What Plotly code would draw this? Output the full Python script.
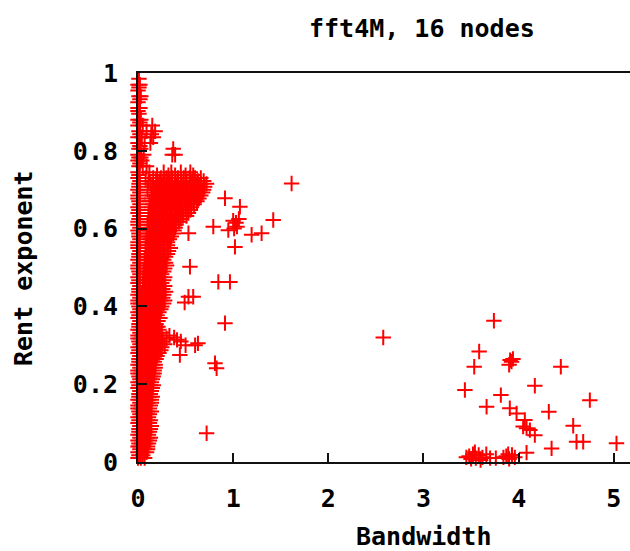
import plotly.graph_objects as go

# ---- data ----
# dense core near zero bandwidth: each row is (rent exponent, [bandwidths])
core_rows = [
    (0.010, [0.0, 0.03, 0.07]),
    (0.025, [0.0, 0.05, 0.09]),
    (0.040, [0.0, 0.02, 0.06, 0.10]),
    (0.055, [0.0, 0.04, 0.08, 0.12]),
    (0.070, [0.0, 0.03, 0.07, 0.11]),
    (0.085, [0.01, 0.05, 0.09, 0.13]),
    (0.100, [0.0, 0.04, 0.08, 0.12]),
    (0.115, [0.0, 0.03, 0.07, 0.11]),
    (0.130, [0.01, 0.05, 0.10, 0.14]),
    (0.145, [0.0, 0.04, 0.08, 0.13]),
    (0.160, [0.0, 0.03, 0.07, 0.11, 0.14]),
    (0.175, [0.01, 0.05, 0.09, 0.13]),
    (0.190, [0.0, 0.04, 0.08, 0.12, 0.15]),
    (0.205, [0.0, 0.03, 0.07, 0.11, 0.14]),
    (0.220, [0.01, 0.05, 0.09, 0.13, 0.16]),
    (0.235, [0.0, 0.04, 0.08, 0.12, 0.17]),
    (0.250, [0.0, 0.03, 0.07, 0.11, 0.15, 0.18]),
    (0.265, [0.01, 0.05, 0.09, 0.14, 0.19]),
    (0.280, [0.0, 0.04, 0.08, 0.12, 0.17, 0.22]),
    (0.295, [0.0, 0.03, 0.07, 0.11, 0.16, 0.21, 0.25]),
    (0.310, [0.01, 0.05, 0.10, 0.15, 0.20, 0.26]),
    (0.325, [0.0, 0.04, 0.08, 0.13, 0.18, 0.23, 0.33]),
    (0.340, [0.0, 0.03, 0.07, 0.12, 0.17, 0.22]),
    (0.355, [0.01, 0.05, 0.09, 0.14, 0.19]),
    (0.370, [0.0, 0.04, 0.08, 0.13, 0.18, 0.23]),
    (0.385, [0.0, 0.03, 0.07, 0.12, 0.17, 0.22]),
    (0.400, [0.01, 0.06, 0.10, 0.15, 0.20, 0.25]),
    (0.415, [0.0, 0.05, 0.09, 0.14, 0.19, 0.24, 0.28]),
    (0.430, [0.0, 0.04, 0.08, 0.13, 0.18, 0.23, 0.27]),
    (0.445, [0.01, 0.06, 0.11, 0.16, 0.21, 0.26]),
    (0.460, [0.0, 0.05, 0.10, 0.15, 0.20, 0.25]),
    (0.475, [0.0, 0.08, 0.13, 0.18, 0.23, 0.28]),
    (0.490, [0.01, 0.06, 0.11, 0.16, 0.21, 0.27]),
    (0.505, [0.0, 0.09, 0.14, 0.19, 0.24, 0.30]),
    (0.520, [0.0, 0.07, 0.12, 0.17, 0.22, 0.27]),
    (0.535, [0.01, 0.10, 0.15, 0.20, 0.25, 0.31]),
    (0.550, [0.0, 0.08, 0.13, 0.18, 0.23, 0.28, 0.34]),
    (0.565, [0.0, 0.11, 0.16, 0.21, 0.26, 0.31]),
    (0.580, [0.01, 0.09, 0.14, 0.19, 0.24, 0.29, 0.35]),
    (0.595, [0.0, 0.12, 0.17, 0.22, 0.27, 0.32, 0.38]),
    (0.610, [0.0, 0.10, 0.15, 0.20, 0.25, 0.30, 0.35, 0.40]),
    (0.625, [0.01, 0.13, 0.18, 0.23, 0.28, 0.33, 0.39, 0.45]),
    (0.640, [0.0, 0.11, 0.16, 0.21, 0.26, 0.31, 0.36, 0.42, 0.48, 0.53]),
    (0.655, [0.0, 0.14, 0.19, 0.24, 0.29, 0.34, 0.39, 0.44, 0.50, 0.56]),
    (0.670, [0.01, 0.12, 0.17, 0.22, 0.27, 0.32, 0.37, 0.42, 0.47, 0.52, 0.58, 0.62]),
    (0.685, [0.0, 0.15, 0.20, 0.25, 0.30, 0.35, 0.40, 0.45, 0.50, 0.55, 0.60, 0.66]),
    (0.700, [0.0, 0.10, 0.18, 0.23, 0.28, 0.33, 0.38, 0.43, 0.48, 0.53, 0.58, 0.63, 0.69]),
    (0.715, [0.01, 0.13, 0.21, 0.26, 0.31, 0.36, 0.41, 0.46, 0.51, 0.56, 0.61, 0.66, 0.72]),
    (0.730, [0.0, 0.08, 0.16, 0.24, 0.30, 0.36, 0.42, 0.48, 0.54, 0.60, 0.66]),
    (0.745, [0.0, 0.12, 0.27, 0.35, 0.45, 0.55]),
    (0.760, [0.01, 0.05, 0.09]),
    (0.775, [0.0, 0.04]),
    (0.790, [0.0, 0.06, 0.36, 0.39]),
    (0.805, [0.01, 0.03, 0.37]),
    (0.820, [0.0, 0.07, 0.13]),
    (0.835, [0.0, 0.04, 0.16]),
    (0.850, [0.01, 0.09, 0.18]),
    (0.865, [0.0, 0.05, 0.15]),
    (0.880, [0.0, 0.03]),
    (0.895, [0.01]),
    (0.910, [0.0, 0.02]),
    (0.925, [0.0]),
    (0.940, [0.01, 0.03]),
    (0.955, [0.0]),
    (0.970, [0.0, 0.02]),
    (0.985, [0.01]),
]

# second, interleaved set of rows in the same dense core
core_rows_b = [
    (0.0175, [0.01, 0.05]),
    (0.0325, [0.02, 0.07, 0.10]),
    (0.0475, [0.01, 0.04, 0.08, 0.11]),
    (0.0625, [0.02, 0.06, 0.10, 0.13]),
    (0.0775, [0.01, 0.05, 0.09, 0.12]),
    (0.0925, [0.02, 0.07, 0.11, 0.14]),
    (0.1075, [0.01, 0.06, 0.10, 0.13]),
    (0.1225, [0.02, 0.05, 0.09, 0.12]),
    (0.1375, [0.0, 0.03, 0.07, 0.12]),
    (0.1525, [0.02, 0.06, 0.10, 0.14]),
    (0.1675, [0.01, 0.05, 0.09, 0.12, 0.15]),
    (0.1825, [0.02, 0.07, 0.11, 0.14]),
    (0.1975, [0.01, 0.06, 0.10, 0.13, 0.16]),
    (0.2125, [0.02, 0.05, 0.09, 0.12, 0.15]),
    (0.2275, [0.0, 0.03, 0.07, 0.11, 0.15, 0.17]),
    (0.2425, [0.02, 0.06, 0.10, 0.14, 0.18]),
    (0.2575, [0.01, 0.05, 0.09, 0.13, 0.17]),
    (0.2725, [0.02, 0.07, 0.11, 0.16, 0.20]),
    (0.2875, [0.01, 0.06, 0.10, 0.14, 0.19, 0.24]),
    (0.3025, [0.02, 0.05, 0.09, 0.13, 0.18, 0.23, 0.28]),
    (0.3175, [0.0, 0.03, 0.07, 0.12, 0.17, 0.22, 0.30]),
    (0.3325, [0.02, 0.06, 0.10, 0.15, 0.20, 0.25]),
    (0.3475, [0.01, 0.05, 0.09, 0.14, 0.19, 0.21]),
    (0.3625, [0.02, 0.07, 0.11, 0.16, 0.21]),
    (0.3775, [0.01, 0.06, 0.10, 0.15, 0.20]),
    (0.3925, [0.02, 0.05, 0.09, 0.14, 0.19, 0.24]),
    (0.4075, [0.0, 0.03, 0.08, 0.12, 0.17, 0.22, 0.27]),
    (0.4225, [0.02, 0.07, 0.11, 0.16, 0.21, 0.26]),
    (0.4375, [0.01, 0.06, 0.10, 0.15, 0.20, 0.25, 0.29]),
    (0.4525, [0.02, 0.08, 0.13, 0.18, 0.23, 0.28]),
    (0.4675, [0.01, 0.07, 0.12, 0.17, 0.22, 0.27]),
    (0.4825, [0.02, 0.10, 0.15, 0.20, 0.25]),
    (0.4975, [0.0, 0.08, 0.13, 0.18, 0.23, 0.28]),
    (0.5125, [0.02, 0.11, 0.16, 0.21, 0.26, 0.29]),
    (0.5275, [0.01, 0.09, 0.14, 0.19, 0.24, 0.29]),
    (0.5425, [0.02, 0.12, 0.17, 0.22, 0.27, 0.32]),
    (0.5575, [0.0, 0.10, 0.15, 0.20, 0.25, 0.31]),
    (0.5725, [0.02, 0.13, 0.18, 0.23, 0.28, 0.33]),
    (0.5875, [0.01, 0.11, 0.16, 0.21, 0.26, 0.31, 0.37]),
    (0.6025, [0.02, 0.14, 0.19, 0.24, 0.29, 0.34, 0.39]),
    (0.6175, [0.0, 0.12, 0.17, 0.22, 0.27, 0.32, 0.37, 0.43]),
    (0.6325, [0.02, 0.15, 0.20, 0.25, 0.30, 0.35, 0.41, 0.47, 0.51]),
    (0.6475, [0.01, 0.13, 0.18, 0.23, 0.28, 0.33, 0.38, 0.45, 0.51, 0.55]),
    (0.6625, [0.02, 0.16, 0.21, 0.26, 0.31, 0.36, 0.41, 0.46, 0.53, 0.59]),
    (0.6775, [0.0, 0.14, 0.19, 0.24, 0.29, 0.34, 0.39, 0.44, 0.49, 0.54, 0.59, 0.64]),
    (0.6925, [0.02, 0.17, 0.22, 0.27, 0.32, 0.37, 0.42, 0.47, 0.52, 0.57, 0.62, 0.68]),
    (0.7075, [0.01, 0.15, 0.20, 0.25, 0.30, 0.35, 0.40, 0.45, 0.50, 0.55, 0.60, 0.65, 0.70]),
    (0.7225, [0.02, 0.11, 0.19, 0.23, 0.28, 0.33, 0.39, 0.45, 0.51, 0.57, 0.63, 0.69]),
    (0.7375, [0.01, 0.20, 0.32, 0.39, 0.50, 0.58]),
    (0.7675, [0.02]),
    (0.7825, [0.01, 0.03]),
    (0.8125, [0.02]),
    (0.8425, [0.02, 0.14]),
    (0.8725, [0.02]),
    (0.9025, [0.0]),
    (0.9325, [0.02]),
    (0.9625, [0.01]),
]

# scattered points between 0.3 and 1.7 bandwidth
mid_bw = [1.614, 0.914, 1.071, 1.421, 0.791, 1.00, 1.03, 1.06, 1.04, 1.01,
          0.949, 1.194, 1.299, 1.019, 0.844, 0.966, 0.914, 0.809, 0.826, 0.721,
          0.63, 0.60, 0.44, 0.41, 0.53, 0.546, 0.53, 0.58, 0.49, 0.38, 0.45, 0.50]
mid_rent = [0.716, 0.678, 0.656, 0.622, 0.605, 0.620, 0.615, 0.625, 0.605, 0.600,
            0.596, 0.584, 0.588, 0.553, 0.463, 0.463, 0.357, 0.254, 0.241, 0.074,
            0.305, 0.300, 0.275, 0.314, 0.588, 0.502, 0.425, 0.425, 0.410, 0.320, 0.310, 0.300]

# far group at high bandwidth
far_bw = [2.577, 3.74, 3.585, 3.533, 3.925, 3.90, 3.94, 3.91, 4.443, 3.435,
          4.17, 4.748, 3.813, 3.663, 3.907, 3.978, 4.317, 4.065, 4.047, 4.083,
          4.118, 4.17, 4.573, 4.608, 4.678, 4.346, 5.028, 4.083,
          3.48, 3.52, 3.55, 3.50, 3.58, 3.62, 3.66, 3.70, 3.45, 3.54, 3.60,
          3.76, 3.84, 3.87, 3.90, 3.93, 3.96, 3.89]
far_rent = [0.320, 0.363, 0.284, 0.245, 0.258, 0.250, 0.265, 0.262, 0.245, 0.185,
            0.196, 0.159, 0.172, 0.142, 0.138, 0.125, 0.129, 0.108, 0.091, 0.087,
            0.082, 0.069, 0.093, 0.052, 0.052, 0.035, 0.048, 0.024,
            0.015, 0.020, 0.010, 0.008, 0.018, 0.012, 0.020, 0.010, 0.012, 0.025, 0.005,
            0.010, 0.012, 0.015, 0.008, 0.018, 0.012, 0.020]

x_ticks = [0, 1, 2, 3, 4, 5]
y_ticks = [0, 0.2, 0.4, 0.6, 0.8, 1]
y_tick_text = ["0", "0.2", "0.4", "0.6", "0.8", "1"]

core_bw = [x for y, xs in core_rows + core_rows_b for x in xs]
core_rent = [y for y, xs in core_rows + core_rows_b for x in xs]

all_bw = core_bw + mid_bw + far_bw
all_rent = core_rent + mid_rent + far_rent

FONT = "DejaVu Sans Mono"
FS = 25

fig = go.Figure()
fig.add_trace(go.Scatter(
    x=all_bw, y=all_rent, mode="markers", cliponaxis=False,
    marker=dict(symbol="cross-thin", size=11, color="#ff0000",
                line=dict(color="#ff0000", width=2)),
    showlegend=False, hoverinfo="skip",
))

L, T, R, B = 138, 73, 0, 89
W, H = 630, 551
pw = W - L - R

fig.update_layout(
    width=W, height=H,
    margin=dict(l=L, r=R, t=T, b=B),
    paper_bgcolor="white", plot_bgcolor="white",
    font=dict(family=FONT, size=FS, color="black"),
    xaxis=dict(range=[0, 5.17], tickvals=x_ticks, ticktext=[str(v) for v in x_ticks],
               showgrid=False, zeroline=False, showline=True, mirror=True,
               linecolor="#111", linewidth=2, ticks="inside", ticklen=9,
               tickwidth=2, tickcolor="#111", layer="above traces",
               ticklabelstandoff=13,
               tickfont=dict(family=FONT, size=FS, color="black", weight="bold")),
    yaxis=dict(range=[0, 1], tickvals=y_ticks, ticktext=y_tick_text,
               showgrid=False, zeroline=False, showline=True, mirror=False,
               linecolor="#111", linewidth=2, ticks="inside", ticklen=9,
               tickwidth=2, tickcolor="#111", layer="above traces",
               ticklabelstandoff=13,
               tickfont=dict(family=FONT, size=FS, color="black", weight="bold")),
)

def ann(text, px, py, angle=0):
    fig.add_annotation(
        text=text, xref="paper", yref="paper",
        x=(px - L) / pw, y=(H - B - py) / (H - T - B),
        xanchor="center", yanchor="middle", showarrow=False, textangle=angle,
        font=dict(family=FONT, size=FS, color="black", weight="bold"),
    )

ann("fft4M, 16 nodes", 422, 28)
ann("Bandwidth", 423, 536)
ann("Rent exponent", 23, 268, -90)

fig.write_html("out.html", config={"displayModeBar": False},
               post_script="document.body.style.margin='0px';")
